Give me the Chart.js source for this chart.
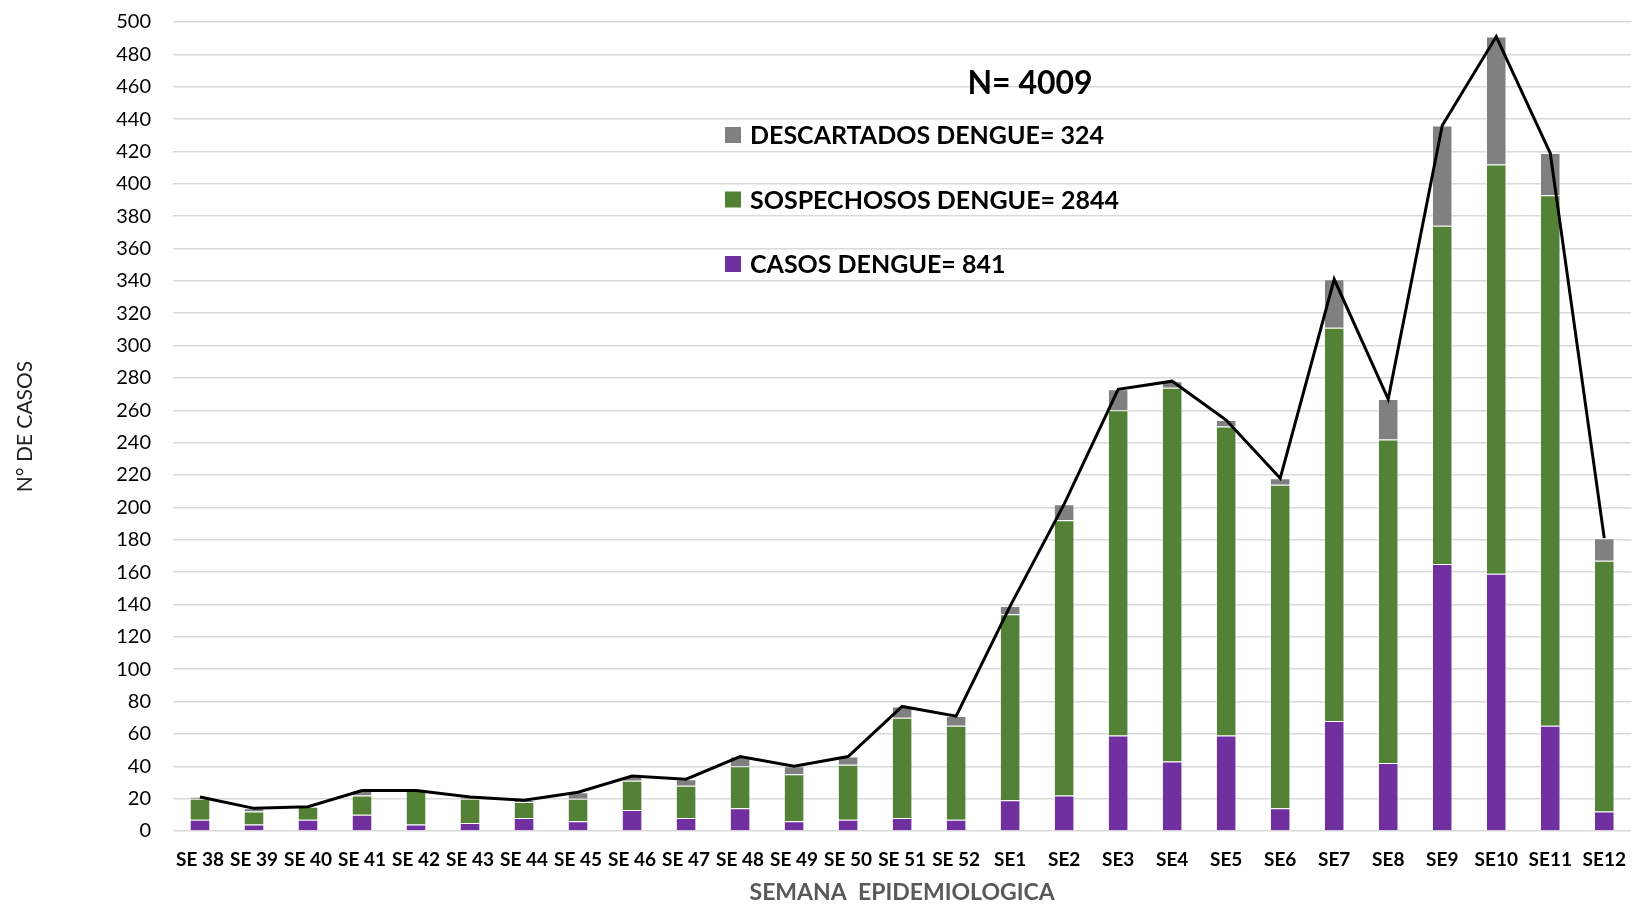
<!DOCTYPE html>
<html>
<head>
<meta charset="utf-8">
<script src="https://cdn.jsdelivr.net/npm/chart.js@4.4.1/dist/chart.umd.min.js"></script>
<style>
  html, body { margin: 0; padding: 0; background: #fff; overflow: hidden; }
  #wrap { width: 1643px; height: 906px; }
</style>
</head>
<body>
<div id="wrap"><canvas id="chart" width="1643" height="906"></canvas></div>
<script>
// semanas epidemiologicas
const semanas = ['SE 38', 'SE 39', 'SE 40', 'SE 41', 'SE 42', 'SE 43', 'SE 44', 'SE 45', 'SE 46', 'SE 47',
  'SE 48', 'SE 49', 'SE 50', 'SE 51', 'SE 52', 'SE1', 'SE2', 'SE3', 'SE4', 'SE5', 'SE6', 'SE7', 'SE8',
  'SE9', 'SE10', 'SE11', 'SE12'];

const casos = [7, 4, 7, 10, 4, 5, 8, 6, 13, 8, 14, 6, 7, 8, 7, 19, 22, 59, 43, 59, 14, 68, 42, 165, 159, 65, 12];
const sospechosos = [13, 8, 8, 12, 21, 15, 10, 14, 18, 20, 26, 29, 34, 62, 58, 115, 170, 201, 231, 191, 200, 243, 200, 209, 253, 328, 155];
const descartados = [1, 2, 0, 3, 0, 1, 1, 4, 3, 4, 6, 5, 5, 7, 6, 5, 10, 13, 4, 4, 4, 30, 25, 62, 79, 26, 14];
const totales = [21, 14, 15, 25, 25, 21, 19, 24, 34, 32, 46, 40, 46, 77, 71, 139, 202, 273, 278, 254, 218, 341, 267, 436, 491, 419, 181];

const yMax = 500;
const yPaso = 20;

const suma = arr => arr.reduce((a, b) => a + b, 0);

const colores = { casos: '#7030A0', sosp: '#538135', desc: '#808080' };

// leyenda y total dibujados dentro del area
const leyenda = {
  id: 'leyenda',
  afterDraw(chart) {
    const ctx = chart.ctx;
    ctx.save();
    ctx.fillStyle = '#000';
    ctx.textBaseline = 'middle';
    ctx.font = 'bold 32px Lato';
    ctx.textAlign = 'center';
    ctx.fillText('N= ' + suma(totales), 1030, 84);

    const items = [
      { txt: 'DESCARTADOS DENGUE= ' + suma(descartados), color: colores.desc, y: 135 },
      { txt: 'SOSPECHOSOS DENGUE= ' + suma(sospechosos), color: colores.sosp, y: 199.5 },
      { txt: 'CASOS DENGUE= ' + suma(casos), color: colores.casos, y: 264 }
    ];
    ctx.font = 'bold 25px Lato';
    ctx.textAlign = 'left';
    items.forEach(it => {
      ctx.fillStyle = it.color;
      ctx.fillRect(725, it.y - 8, 16, 16);
      ctx.fillStyle = '#000';
      ctx.fillText(it.txt, 750, it.y + 1);
    });
    ctx.restore();
  }
};

const ctx = document.getElementById('chart').getContext('2d');
new Chart(ctx, {
  data: {
    labels: semanas,
    datasets: [
      {
        type: 'line',
        label: 'TOTAL',
        data: totales,
        borderColor: '#000',
        borderWidth: 3,
        pointRadius: 0,
        tension: 0,
        stack: 'total',
        order: 0
      },
      {
        type: 'bar',
        label: 'CASOS DENGUE',
        data: casos,
        backgroundColor: colores.casos,
        borderColor: 'rgba(255,255,255,0.45)',
        borderWidth: 1,
        stack: 'a',
        order: 1
      },
      {
        type: 'bar',
        label: 'SOSPECHOSOS DENGUE',
        data: sospechosos,
        backgroundColor: colores.sosp,
        borderColor: 'rgba(255,255,255,0.45)',
        borderWidth: 1,
        stack: 'a',
        order: 1
      },
      {
        type: 'bar',
        label: 'DESCARTADOS DENGUE',
        data: descartados,
        backgroundColor: colores.desc,
        borderColor: 'rgba(255,255,255,0.45)',
        borderWidth: 1,
        stack: 'a',
        order: 1
      }
    ]
  },
  options: {
    responsive: false,
    animation: false,
    layout: { padding: { top: 22, right: 3, bottom: 0, left: 0 } },
    datasets: { bar: { categoryPercentage: 1, barPercentage: 0.38 } },
    scales: {
      x: {
        stacked: true,
        grid: { display: false, drawTicks: false },
        border: { display: false },
        ticks: { color: '#000', font: { family: 'Lato', size: 19, weight: 'bold' }, padding: 17, maxRotation: 0, autoSkip: false },
        title: {
          display: true,
          text: 'SEMANA  EPIDEMIOLOGICA',
          color: '#595959',
          font: { family: 'Lato', size: 23, weight: 'bold' },
          padding: { top: 0, bottom: 0 }
        },
        afterFit(scale) { scale.height = 75; }
      },
      y: {
        stacked: true,
        min: 0,
        max: yMax,
        grid: { color: '#d9d9d9', lineWidth: 1.5, drawTicks: false },
        border: { display: false },
        ticks: { stepSize: yPaso, color: '#000', font: { family: 'Lato', size: 20 }, padding: 22 },
        title: {
          display: true,
          text: 'N° DE CASOS',
          color: '#222',
          font: { family: 'Lato', size: 21 },
          padding: { top: 13, bottom: 0 }
        },
        afterFit(scale) {
          scale.width = 173;
          scale.paddingTop = 0;
          scale.paddingBottom = 0;
        }
      }
    },
    plugins: {
      legend: { display: false },
      tooltip: { enabled: false }
    }
  },
  plugins: [leyenda]
});
</script>
</body>
</html>
